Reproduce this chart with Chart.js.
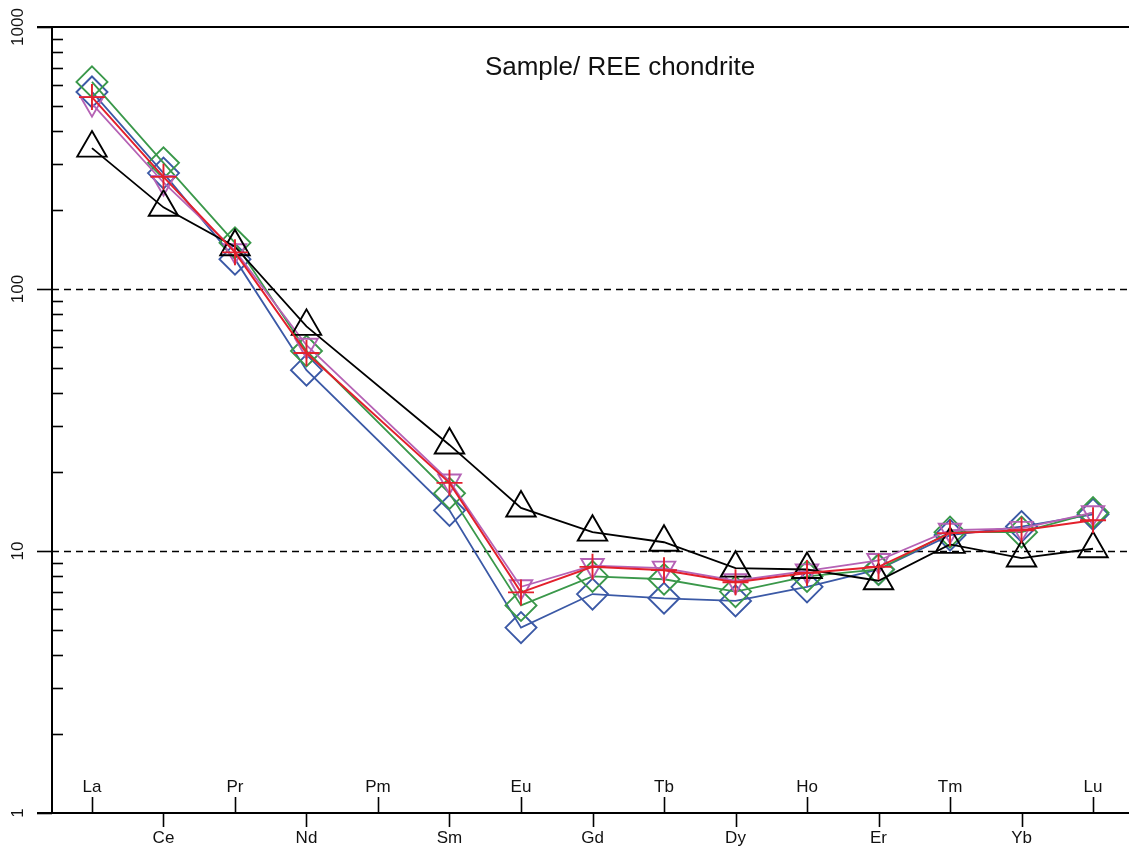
<!DOCTYPE html>
<html>
<head>
<meta charset="utf-8">
<script src="https://cdn.jsdelivr.net/npm/chart.js@4/dist/chart.umd.min.js"></script>
<style>
  html, body { margin: 0; padding: 0; background: #ffffff; overflow: hidden; width: 1129px; height: 848px; }
  #wrap { width: 1129px; height: 848px; position: relative; }
  canvas { display: block; }
</style>
</head>
<body>
<div id="wrap"><canvas id="c" width="1129" height="848" style="width:1129px;height:848px"></canvas></div>
<script>
// ---- data ----
const elements = ['La','Ce','Pr','Nd','Pm','Sm','Eu','Gd','Tb','Dy','Ho','Er','Tm','Yb','Lu'];
const sampleBlack  = [345, 205, 145, 72, null, 25.4, 14.6, 11.8, 10.8, 8.6, 8.5, 7.7, 10.6, 9.4, 10.2];
const sampleBlue   = [565, 277, 130, 49, null, 14.3, 5.1, 6.85, 6.6, 6.45, 7.3, 8.5, 11.5, 12.4, 13.8];
const sampleGreen  = [617, 303, 150, 58, null, 16.6, 6.2, 8.0, 7.8, 7.0, 8.0, 8.5, 11.8, 11.8, 14.0];
const samplePurple = [510, 255, 140, 61, null, 18.5, 7.3, 8.8, 8.6, 7.7, 8.4, 9.2, 12.0, 12.2, 14.0];
const sampleRed    = [540, 268, 138, 57, null, 18.2, 6.95, 8.7, 8.45, 7.6, 8.25, 8.7, 11.7, 12.0, 13.1];
const yMajorTicks = [1, 10, 100, 1000];
const yDashed = [10, 100];
const titleText = 'Sample/ REE chondrite';

function pts(arr) { return arr.map((v, i) => ({ x: i, y: v })); }

const FONT = '"Liberation Sans", Arial, Helvetica, sans-serif';

const axesPlugin = {
  id: 'axesPlugin',
  beforeDatasetsDraw(chart) {
    const { ctx, chartArea: a, scales } = chart;
    const x = scales.x, y = scales.y;
    ctx.save();
    ctx.strokeStyle = '#000';
    // dashed reference lines
    ctx.lineWidth = 1.6;
    ctx.setLineDash([7, 5]);
    yDashed.forEach(v => {
      const py = Math.round(y.getPixelForValue(v)) + 0.5;
      ctx.beginPath(); ctx.moveTo(a.left, py); ctx.lineTo(a.right, py); ctx.stroke();
    });
    ctx.setLineDash([]);
    // top & bottom full lines
    ctx.lineWidth = 2;
    [1000, 1].forEach(v => {
      const py = Math.round(y.getPixelForValue(v));
      ctx.beginPath(); ctx.moveTo(a.left - 15, py); ctx.lineTo(a.right, py); ctx.stroke();
    });
    // y axis line
    ctx.beginPath(); ctx.moveTo(a.left, y.getPixelForValue(1000)); ctx.lineTo(a.left, y.getPixelForValue(1)); ctx.stroke();
    // major ticks (left)
    ctx.lineWidth = 1.6;
    yMajorTicks.forEach(v => {
      const py = Math.round(y.getPixelForValue(v)) + 0.5;
      ctx.beginPath(); ctx.moveTo(a.left - 15, py); ctx.lineTo(a.left, py); ctx.stroke();
    });
    // minor ticks (right, inside)
    for (let d = 1; d < 1000; d *= 10) {
      for (let m = 2; m <= 9; m++) {
        const py = Math.round(y.getPixelForValue(d * m)) + 0.5;
        ctx.beginPath(); ctx.moveTo(a.left, py); ctx.lineTo(a.left + 11, py); ctx.stroke();
      }
    }
    // x ticks
    const by = y.getPixelForValue(1);
    elements.forEach((el, i) => {
      const px = Math.round(x.getPixelForValue(i)) + 0.5;
      ctx.beginPath();
      if (i % 2 === 0) { ctx.moveTo(px, by); ctx.lineTo(px, by - 16); }
      else { ctx.moveTo(px, by); ctx.lineTo(px, by + 14); }
      ctx.stroke();
    });
    ctx.restore();
  },
  afterDraw(chart) {
    const { ctx, scales } = chart;
    const x = scales.x, y = scales.y;
    ctx.save();
    ctx.fillStyle = '#111';
    // x labels
    ctx.font = '17px ' + FONT;
    ctx.textAlign = 'center';
    ctx.textBaseline = 'middle';
    const by = y.getPixelForValue(1);
    elements.forEach((el, i) => {
      const px = x.getPixelForValue(i);
      ctx.fillText(el, px, i % 2 === 0 ? by - 26 : by + 25);
    });
    // y labels rotated
    yMajorTicks.forEach(v => {
      const py = y.getPixelForValue(v);
      ctx.save();
      ctx.translate(18, py);
      ctx.rotate(-Math.PI / 2);
      ctx.fillText(String(v), 0, 0);
      ctx.restore();
    });
    // title
    ctx.font = '26px ' + FONT;
    ctx.fillText(titleText, 620, 68);
    ctx.restore();
  }
};

function ds(data, color, style, radius, rotation, width) {
  return {
    data: pts(data),
    borderColor: color,
    backgroundColor: 'rgba(0,0,0,0)',
    pointBorderColor: color,
    pointBackgroundColor: 'rgba(0,0,0,0)',
    pointStyle: style,
    pointRadius: radius,
    pointRotation: rotation,
    pointBorderWidth: 1.9,
    borderWidth: width,
    tension: 0,
    spanGaps: true,
    clip: false,
    fill: false
  };
}

new Chart(document.getElementById('c'), {
  type: 'line',
  data: {
    datasets: [
      ds(sampleRed, '#e3202c', 'cross', 13, 0, 2),
      ds(sampleBlack, '#000000', 'triangle', 17, 0, 1.8),
      ds(samplePurple, '#b562b5', 'triangle', 13, 180, 1.8),
      ds(sampleGreen, '#3a984a', 'rectRot', 15.5, 0, 1.8),
      ds(sampleBlue, '#3b59a6', 'rectRot', 15.5, 0, 1.8)
    ]
  },
  options: {
    responsive: false,
    maintainAspectRatio: false,
    animation: false,
    devicePixelRatio: 1,
    layout: { autoPadding: false, padding: { left: 52, top: 27, right: 0, bottom: 35 } },
    plugins: { legend: { display: false }, tooltip: { enabled: false }, title: { display: false } },
    scales: {
      x: { type: 'linear', display: false, min: -0.559, max: 14.503 },
      y: { type: 'logarithmic', display: false, min: 1, max: 1000 }
    }
  },
  plugins: [axesPlugin]
});
</script>
</body>
</html>
